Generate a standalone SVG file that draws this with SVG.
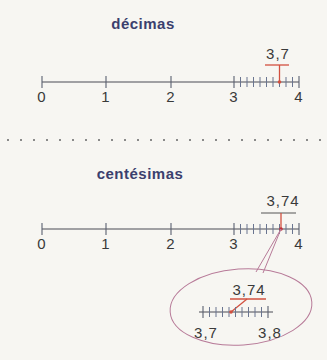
<svg xmlns="http://www.w3.org/2000/svg" width="327" height="360" viewBox="0 0 327 360">
<defs>
<style>
.t{font-family:"Liberation Sans",Arial,sans-serif;font-size:15px;letter-spacing:1px;fill:#3a3a3a;text-anchor:middle}
.h{font-family:"Liberation Sans",Arial,sans-serif;font-size:15px;letter-spacing:0.5px;font-weight:bold;fill:#3b3f6e;text-anchor:middle}
.ax{stroke:#4a4a55;stroke-width:1.2;fill:none}
.tk{stroke:#5a6070;stroke-width:1.1}
.sm{stroke:#6a7590;stroke-width:1}
.red{stroke:#d2503f;stroke-width:1.3;fill:none}
.pk{stroke:#b77a98;stroke-width:1;fill:none}
</style>
</defs>
<rect width="327" height="360" fill="#f7f6f2"/>
<g id="top">
<text class="h" x="143" y="29">décimas</text>
<line class="ax" x1="42" y1="82" x2="299" y2="82"/>
<g class="tk"><line x1="42" y1="76" x2="42" y2="88"/><line x1="106" y1="76" x2="106" y2="88"/><line x1="171" y1="76" x2="171" y2="88"/><line x1="234" y1="76" x2="234" y2="88"/><line x1="299" y1="76" x2="299" y2="88"/></g>
<g class="sm"><line x1="240.5" y1="77" x2="240.5" y2="87"/><line x1="247" y1="77" x2="247" y2="87"/><line x1="253.5" y1="77" x2="253.5" y2="87"/><line x1="260" y1="77" x2="260" y2="87"/><line x1="266.5" y1="77" x2="266.5" y2="87"/><line x1="273" y1="77" x2="273" y2="87"/><line x1="279.5" y1="77" x2="279.5" y2="87"/><line x1="286" y1="77" x2="286" y2="87"/><line x1="292.5" y1="77" x2="292.5" y2="87"/></g>
<text class="t" x="42" y="102">0</text><text class="t" x="106" y="102">1</text><text class="t" x="171" y="102">2</text><text class="t" x="234" y="102">3</text><text class="t" x="299" y="102">4</text>
<text class="t" x="278" y="59">3,7</text>
<line class="red" x1="265" y1="65" x2="289" y2="65"/>
<line class="red" x1="279.5" y1="65" x2="279.5" y2="82"/>
<circle cx="279.5" cy="82" r="1.8" fill="#d2503f"/>
</g>
<g id="sep" fill="#666">
<circle cx="8" cy="140" r="1"/><circle cx="21" cy="140" r="1"/><circle cx="34" cy="140" r="1"/><circle cx="47" cy="140" r="1"/><circle cx="60" cy="140" r="1"/><circle cx="73" cy="140" r="1"/><circle cx="86" cy="140" r="1"/><circle cx="99" cy="140" r="1"/><circle cx="112" cy="140" r="1"/><circle cx="125" cy="140" r="1"/><circle cx="138" cy="140" r="1"/><circle cx="151" cy="140" r="1"/><circle cx="164" cy="140" r="1"/><circle cx="177" cy="140" r="1"/><circle cx="190" cy="140" r="1"/><circle cx="203" cy="140" r="1"/><circle cx="216" cy="140" r="1"/><circle cx="229" cy="140" r="1"/><circle cx="242" cy="140" r="1"/><circle cx="255" cy="140" r="1"/><circle cx="268" cy="140" r="1"/><circle cx="281" cy="140" r="1"/><circle cx="294" cy="140" r="1"/><circle cx="307" cy="140" r="1"/><circle cx="320" cy="140" r="1"/>
</g>
<g id="bottom">
<text class="h" x="140" y="179">centésimas</text>
<line class="ax" x1="42" y1="229" x2="299" y2="229"/>
<g class="tk"><line x1="42" y1="223" x2="42" y2="235"/><line x1="106" y1="223" x2="106" y2="235"/><line x1="171" y1="223" x2="171" y2="235"/><line x1="234" y1="223" x2="234" y2="235"/><line x1="299" y1="223" x2="299" y2="235"/></g>
<g class="sm"><line x1="240.5" y1="224" x2="240.5" y2="234"/><line x1="247" y1="224" x2="247" y2="234"/><line x1="253.5" y1="224" x2="253.5" y2="234"/><line x1="260" y1="224" x2="260" y2="234"/><line x1="266.5" y1="224" x2="266.5" y2="234"/><line x1="273" y1="224" x2="273" y2="234"/><line x1="279.5" y1="224" x2="279.5" y2="234"/><line x1="286" y1="224" x2="286" y2="234"/><line x1="292.5" y1="224" x2="292.5" y2="234"/></g>
<text class="t" x="42" y="249">0</text><text class="t" x="106" y="249">1</text><text class="t" x="171" y="249">2</text><text class="t" x="234" y="249">3</text><text class="t" x="299" y="249">4</text>
<text class="t" x="283" y="206">3,74</text>
<line x1="261" y1="213" x2="296" y2="213" stroke="#555" stroke-width="1"/>
<line class="red" x1="281" y1="213" x2="281" y2="229"/>
<circle cx="281" cy="229" r="1.8" fill="#c0303a"/>
</g>
<g id="zoom">
<path class="pk" d="M281 229 L256 272 M281 229 L263 273"/>
<ellipse class="pk" cx="241" cy="307" rx="71" ry="38" transform="rotate(-4 241 307)"/>
<text class="t" x="249" y="295">3,74</text>
<line class="red" x1="230" y1="299" x2="266" y2="299"/>
<line class="red" x1="231" y1="312" x2="247" y2="299"/>
<line class="ax" x1="199" y1="312" x2="273" y2="312"/>
<g class="tk"><line x1="203" y1="306" x2="203" y2="318"/><line x1="268" y1="306" x2="268" y2="318"/></g>
<g class="sm"><line x1="209.5" y1="307" x2="209.5" y2="317"/><line x1="216" y1="307" x2="216" y2="317"/><line x1="222.5" y1="307" x2="222.5" y2="317"/><line x1="229" y1="307" x2="229" y2="317"/><line x1="235.5" y1="307" x2="235.5" y2="317"/><line x1="242" y1="307" x2="242" y2="317"/><line x1="248.5" y1="307" x2="248.5" y2="317"/><line x1="255" y1="307" x2="255" y2="317"/><line x1="261.5" y1="307" x2="261.5" y2="317"/></g>
<circle cx="231" cy="312" r="1.8" fill="#d2503f"/>
<text class="t" x="206" y="338">3,7</text>
<text class="t" x="270" y="338">3,8</text>
</g>
</svg>
